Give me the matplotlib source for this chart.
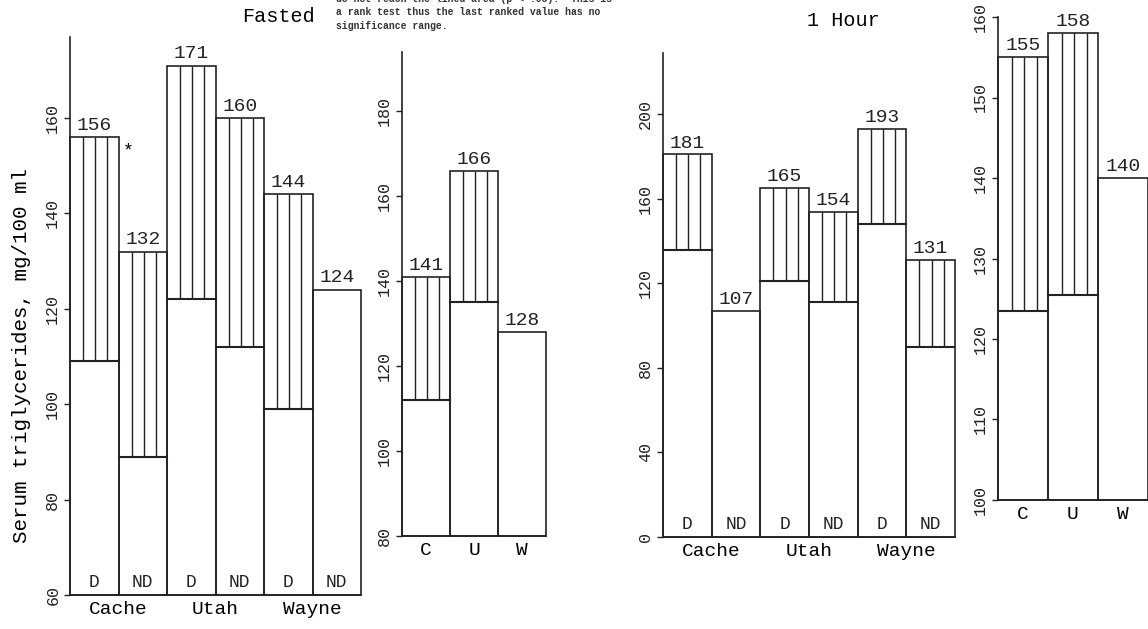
import numpy as np
import matplotlib
matplotlib.use('Agg')
import matplotlib.pyplot as plt
from matplotlib.patches import Rectangle

plt.rcParams['font.family'] = ['Liberation Mono', 'DejaVu Sans Mono']

# ── data ──────────────────────────────────────────────
group_labels = ['Cache', 'Utah', 'Wayne']
status_labels = ['D', 'ND', 'D', 'ND', 'D', 'ND']
county_labels = ['C', 'U', 'W']

fasted_vals = [156, 132, 171, 160, 144, 124]
fasted_low = [109, 89, 122, 112, 99, np.nan]
fasted_cty_vals = [141, 166, 128]
fasted_cty_low = [112, 135, np.nan]

hour_vals = [181, 107, 165, 154, 193, 131]
hour_low = [136, np.nan, 121, 111, 148, 90]
hour_cty_vals = [155, 158, 140]
hour_cty_low = [123.5, 125.5, np.nan]

W, H = 1148, 629
fig = plt.figure(figsize=(W / 100, H / 100), dpi=100)
fig.patch.set_facecolor('white')

LW = 1.2
INK = '#222222'
HATCH_POS = [0.27, 0.52, 0.77]


def px_axes(x0, x1, ytop, ybot):
    return fig.add_axes([x0 / W, 1 - ybot / H, (x1 - x0) / W, (ybot - ytop) / H])


def draw_panel(ax, vals, lows, ylim, yticks, xticks, xticklabels, inner=None):
    n = len(vals)
    for i, (v, lo) in enumerate(zip(vals, lows)):
        ax.add_patch(Rectangle((i, ylim[0]), 1, v - ylim[0], fill=False,
                               edgecolor=INK, lw=LW, clip_on=False))
        ax.text(i + 0.5, v + (ylim[1] - ylim[0]) * 0.006, f'{v:g}', ha='center',
                va='bottom', fontsize=14, color=INK)
        if not np.isnan(lo):
            ax.plot([i, i + 1], [lo, lo], color=INK, lw=LW + 0.3)
            ax.vlines([i + p for p in HATCH_POS], lo, v, color=INK, lw=1.0)
        if inner is not None:
            ax.annotate(inner[i], xy=(i + 0.5, ylim[0]), xytext=(0, 3),
                        textcoords='offset points', ha='center', va='bottom',
                        fontsize=13, color=INK)
    ax.set_xlim(0, n)
    ax.set_ylim(*ylim)
    ax.set_yticks(yticks)
    ax.set_yticklabels([str(t) for t in yticks], rotation=90, va='center', fontsize=12)
    ax.set_xticks(xticks)
    ax.set_xticklabels(xticklabels, fontsize=14)
    ax.tick_params(axis='x', length=0, pad=4)
    ax.tick_params(axis='y', length=4, width=1, pad=3, colors=INK)
    for s in ['top', 'right']:
        ax.spines[s].set_visible(False)
    for s in ['left', 'bottom']:
        ax.spines[s].set_linewidth(LW)
        ax.spines[s].set_color(INK)
    ax.patch.set_alpha(0)


# Fasted, by diet
ax1 = px_axes(70, 361, 37, 595)
draw_panel(ax1, fasted_vals, fasted_low, (60, 177), range(60, 161, 20),
           [1, 3, 5], group_labels, inner=status_labels)
ax1.text(1.2, 153, '*', ha='center', va='center', fontsize=13)
ax1.set_ylabel('Serum triglycerides, mg/100 ml', fontsize=15)
ax1.yaxis.set_label_coords(-0.135, 0.43)

# Fasted, by county
ax2 = px_axes(402, 546, 52, 536)
draw_panel(ax2, fasted_cty_vals, fasted_cty_low, (80, 194), range(80, 181, 20),
           [0.5, 1.5, 2.5], county_labels)

# 1 hour, by diet
ax3 = px_axes(663, 955, 53, 537)
draw_panel(ax3, hour_vals, hour_low, (0, 229), range(0, 201, 40),
           [1, 3, 5], group_labels, inner=status_labels)

# 1 hour, by county
ax4 = px_axes(998, 1148, 17, 500)
draw_panel(ax4, hour_cty_vals, hour_cty_low, (100, 160), range(100, 161, 10),
           [0.5, 1.5, 2.5], county_labels)

fig.text(278 / W, 1 - 17 / H, 'Fasted', ha='center', va='center', fontsize=14.5)
fig.text(843 / W, 1 - 20 / H, '1 Hour', ha='center', va='center', fontsize=14.5)

note = ('do not reach the lined area (p < .05).  This is\n'
        'a rank test thus the last ranked value has no\n'
        'significance range.')
fig.text(336 / W, 1 - 31 / H, note, ha='left', va='bottom', fontsize=7,
         fontweight='bold', linespacing=1.45, color='#333333')

fig.savefig('out.png', dpi=100, facecolor='white')
